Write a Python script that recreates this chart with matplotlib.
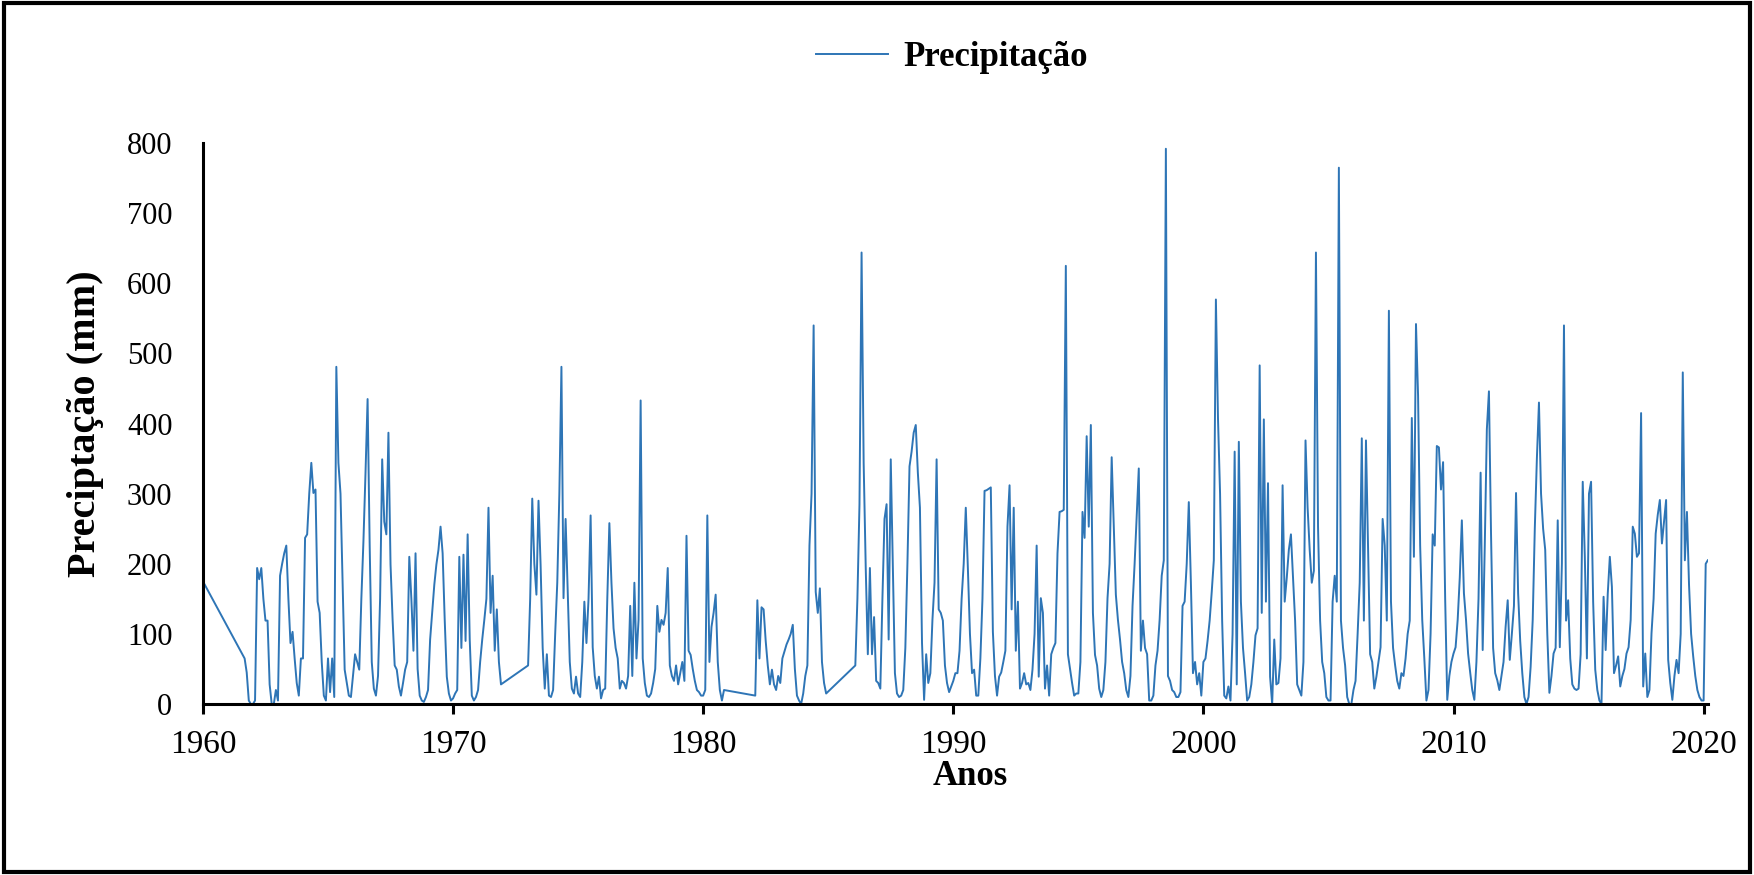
import numpy as np
import matplotlib
matplotlib.use("Agg")
import matplotlib.pyplot as plt
from matplotlib.patches import Rectangle

# Monthly precipitation (mm), Jan..Dec per row; None = no record
prec_1960s = [
    175, None, None, None, None, None, None, None, None, None, None, None,
    None, None, None, None, None, None, None, None, 65, 45, 5, 0,
    0, 5, 194, 178, 194, 150, 119, 119, 28, 0, 0, 20,
    5, 183, 200, 215, 226, 150, 87, 103, 65, 30, 12, 65,
    65, 237, 242, 300, 344, 301, 306, 146, 130, 60, 12, 5,
    65, 17, 65, 10, 481, 344, 300, 173, 49, 30, 12, 10,
    40, 71, 60, 49, 150, 232, 330, 435, 226, 60, 22, 12,
    40, 150, 349, 260, 242, 387, 199, 120, 55, 49, 25, 12,
    30, 49, 60, 210, 150, 76, 215, 50, 12, 5, 3, 10,
    20, 92, 130, 170, 199, 220, 253, 215, 120, 39, 15, 5,
]
prec_1970s = [
    8, 15, 20, 210, 80, 213, 90, 242, 92, 12, 5, 10,
    20, 60, 92, 120, 150, 280, 130, 183, 76, 135, 60, 28,
    None, None, None, None, None, None, None, None, None, None, None, None,
    55, 150, 293, 200, 156, 290, 199, 80, 22, 71, 12, 10,
    20, 100, 173, 300, 481, 151, 264, 162, 60, 22, 15, 39,
    15, 10, 60, 146, 87, 150, 269, 81, 40, 22, 39, 8,
    20, 22, 150, 258, 173, 108, 80, 65, 22, 33, 30, 22,
    40, 140, 40, 173, 65, 120, 433, 65, 30, 12, 10, 15,
    30, 50, 140, 103, 120, 113, 130, 194, 55, 40, 33, 55,
    28, 44, 60, 33, 240, 76, 70, 50, 33, 20, 17, 12,
]
prec_1980s = [
    12, 20, 269, 60, 110, 130, 156, 60, 20, 5, 20, None,
    None, None, None, None, None, None, None, None, None, None, None, None,
    None, 12, 148, 65, 138, 135, 90, 55, 28, 49, 28, 20,
    40, 30, 65, 75, 85, 92, 100, 113, 50, 12, 5, 0,
    15, 40, 55, 226, 300, 540, 160, 130, 165, 60, 30, 15,
    None, None, None, None, None, None, None, None, None, None, None, None,
    None, 55, 150, 285, 644, 344, 194, 71, 194, 71, 124, 33,
    30, 22, 150, 264, 285, 92, 349, 200, 44, 15, 10, 12,
    20, 80, 200, 339, 360, 387, 398, 330, 280, 87, 6, 71,
    30, 44, 120, 173, 349, 135, 130, 119, 55, 30, 17, 25,
]
prec_1990s = [
    33, 44, 44, 76, 150, 200, 280, 194, 100, 44, 49, 12,
    12, 65, 150, 304, 305, 307, 309, 103, 40, 12, 39, 45,
    60, 76, 253, 312, 135, 280, 76, 146, 22, 30, 44, 28,
    30, 20, 49, 100, 226, 39, 151, 130, 22, 55, 12, 71,
    80, 87, 215, 274, 275, 277, 625, 71, 50, 30, 12, 15,
    15, 60, 274, 237, 382, 253, 398, 130, 70, 55, 22, 10,
    20, 60, 151, 200, 352, 253, 156, 120, 92, 60, 44, 20,
    10, 40, 140, 200, 269, 336, 76, 119, 80, 71, 5, 5,
    12, 55, 76, 120, 183, 205, 792, 40, 33, 20, 17, 10,
    10, 17, 140, 146, 200, 288, 173, 44, 60, 28, 44, 12,
]
prec_2000s = [
    60, 65, 90, 119, 160, 205, 577, 408, 300, 119, 12, 8,
    25, 5, 100, 360, 28, 374, 146, 80, 44, 5, 10, 28,
    60, 98, 108, 483, 130, 406, 146, 315, 39, 0, 92, 28,
    30, 65, 312, 146, 180, 220, 242, 180, 119, 28, 20, 12,
    60, 376, 280, 220, 173, 190, 644, 253, 119, 60, 44, 10,
    5, 5, 146, 183, 146, 765, 119, 80, 55, 10, 0, 0,
    20, 33, 100, 173, 379, 119, 376, 226, 71, 60, 22, 39,
    60, 81, 264, 226, 119, 561, 146, 80, 55, 33, 22, 44,
    40, 65, 100, 119, 408, 210, 542, 440, 226, 120, 65, 5,
    20, 100, 242, 226, 368, 366, 306, 345, 150, 6, 40, 60,
]
prec_2010s = [
    72, 81, 120, 180, 262, 158, 120, 72, 45, 20, 6, 60,
    150, 330, 77, 226, 392, 446, 243, 80, 44, 34, 20, 40,
    60, 110, 148, 63, 100, 140, 301, 158, 90, 44, 10, 0,
    10, 53, 120, 250, 350, 430, 300, 250, 220, 100, 16, 40,
    72, 80, 262, 81, 200, 540, 119, 148, 65, 28, 22, 20,
    22, 71, 317, 210, 65, 300, 317, 146, 49, 20, 5, 0,
    153, 77, 157, 210, 167, 44, 55, 68, 25, 40, 50, 72,
    81, 120, 253, 243, 210, 215, 415, 25, 72, 10, 20, 101,
    150, 243, 270, 291, 229, 260, 291, 63, 30, 6, 40, 63,
    44, 100, 473, 205, 274, 170, 100, 68, 40, 20, 10, 5,
]
prec_2020 = [5, 200, 205]

x_ticks = [1960, 1970, 1980, 1990, 2000, 2010, 2020]
y_ticks = [0, 100, 200, 300, 400, 500, 600, 700, 800]

series = prec_1960s + prec_1970s + prec_1980s + prec_1990s + prec_2000s + prec_2010s + prec_2020
vals = np.array([np.nan if v is None else v for v in series], dtype=float)
dates = 1960 + np.arange(len(vals)) / 12.0
ok = ~np.isnan(vals)

plt.rcParams['font.family'] = ['Liberation Serif', 'DejaVu Serif']

fig = plt.figure(figsize=(17.54, 8.75), dpi=100)
ax = fig.add_axes([0.1157, 0.1954, 0.858, 0.641])

# gaps are bridged by straight segments, like the original
ax.plot(dates[ok], vals[ok], color='#2E75B6', lw=1.4, label='Precipitação')

ax.set_xlim(1960, 2020.17)
ax.set_ylim(0, 800)
ax.set_xticks(x_ticks)
ax.set_yticks(y_ticks)

for side in ['top', 'right']:
    ax.spines[side].set_visible(False)
for side in ['left', 'bottom']:
    ax.spines[side].set_linewidth(2.2)
    ax.spines[side].set_color('black')

ax.tick_params(axis='x', direction='out', length=7, width=2.2, pad=11, labelsize=24)
ax.tick_params(axis='y', length=0, pad=22, labelsize=22)

ax.set_ylabel('Preciptação (mm)', fontsize=29, fontweight='bold')
ax.yaxis.set_label_coords(-0.066, 0.5)
ax.set_xlabel('Anos', fontsize=25, fontweight='bold')
ax.xaxis.set_label_coords(0.51, -0.1)

fig.legend(loc='center', bbox_to_anchor=(0.5425, 0.934), frameon=False,
           prop={'weight': 'bold', 'size': 25}, handlelength=2.1,
           handletextpad=0.42)

# outer frame of the picture
fig.add_artist(Rectangle((0.002, 0.003), 0.996, 0.994, transform=fig.transFigure,
                         fill=False, edgecolor='black', lw=3))

fig.savefig('out.png', dpi=100)
